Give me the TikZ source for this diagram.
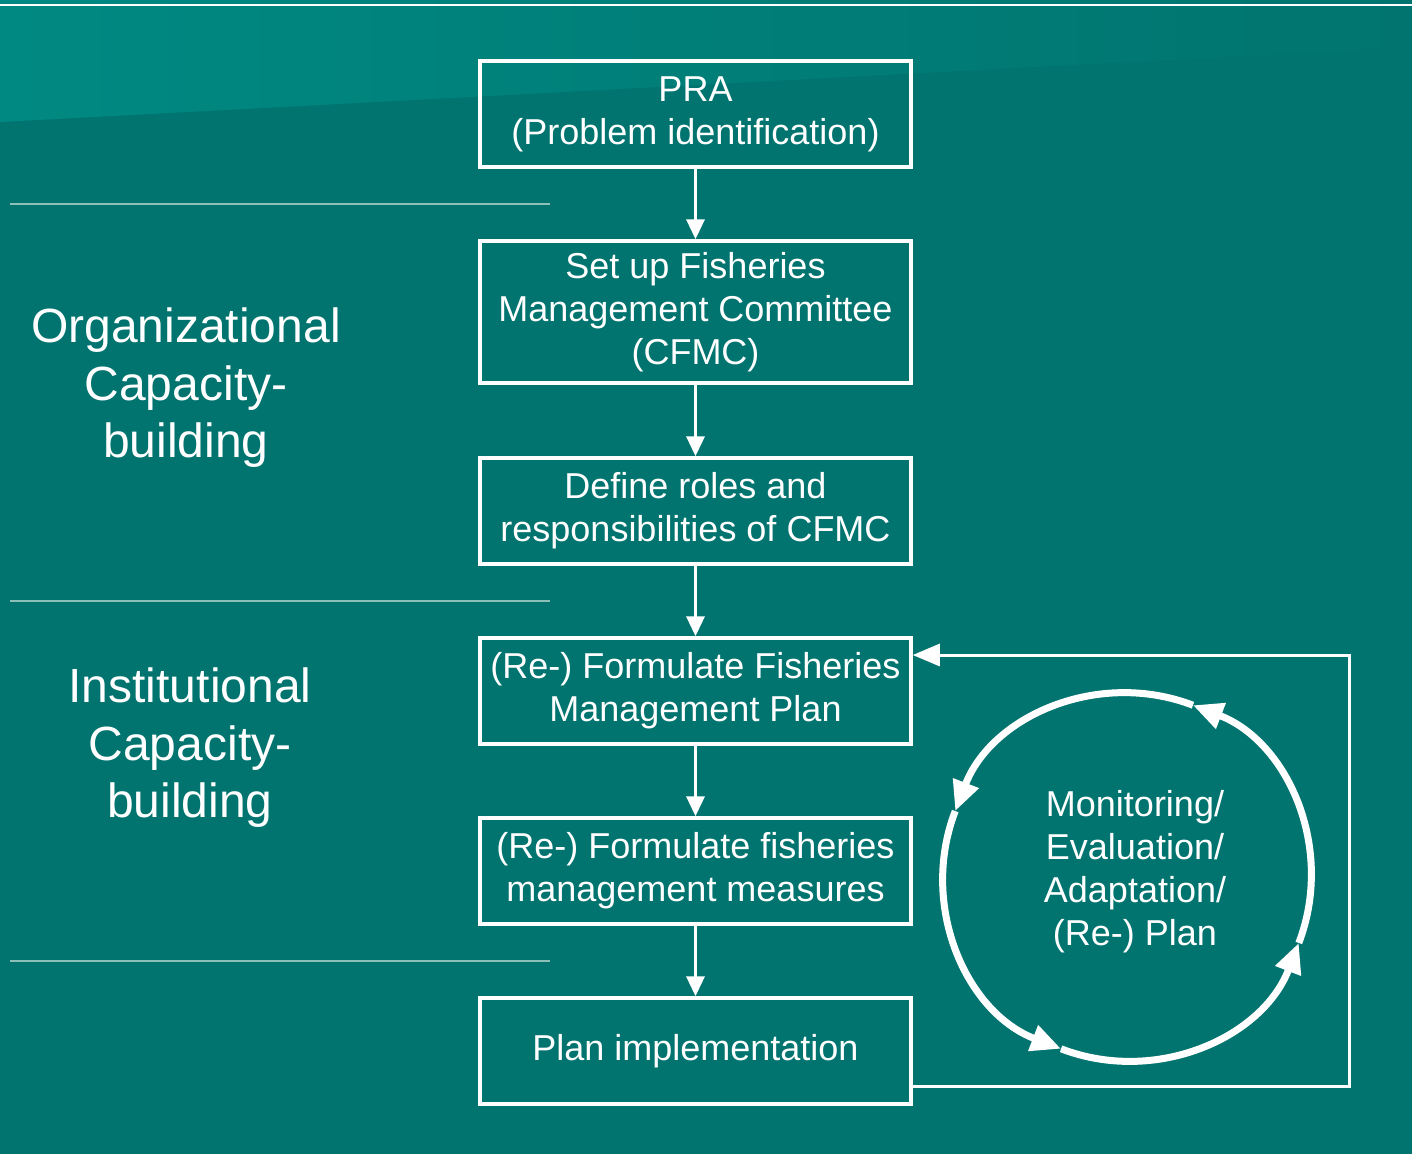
\documentclass[tikz,border=0pt]{standalone}
\usepackage{fontspec}
\setmainfont{Liberation Sans}
\usetikzlibrary{arrows.meta}
\definecolor{bg}{RGB}{1,116,111}
\definecolor{bglight}{RGB}{0,137,130}
\definecolor{sepcol}{RGB}{140,190,186}
\begin{document}
\begin{tikzpicture}[x=1pt,y=-1pt,
  box/.style={draw=white, line width=3.5pt, minimum width=431pt, inner sep=0pt, align=center, text=white, font=\fontsize{36}{43}\selectfont},
  conn/.style={draw=white, line width=3.5pt, -{Triangle[length=20pt,width=18pt]}},
  loopline/.style={draw=white, line width=3pt, -{Triangle[length=27pt,width=22pt]}},
  cyclearc/.style={draw=white, line width=7pt, -{Triangle[length=30pt,width=26pt]}},
  lab/.style={align=center, text=white, font=\fontsize{48}{57.5}\selectfont},
  ctext/.style={align=center, text=white, font=\fontsize{36}{43}\selectfont},
  sepline/.style={draw=sepcol, line width=1.8pt}
]
\useasboundingbox (0,0) rectangle (1412,1154);
\fill[bg] (0,0) rectangle (1412,1154);
\shade[left color=bglight, right color=bg] (0,0) -- (1412,0) -- (1412,47) -- (0,122) -- cycle;
\draw[white, line width=2pt] (0,5) -- (1412,5);

% separators
\draw[sepline] (10,204) -- (550,204);
\draw[sepline] (10,601) -- (550,601);
\draw[sepline] (10,961) -- (550,961);

% left labels
\node[lab] (org) at (186,388) {Organizational\\Capacity-\\building};
\node[lab] (inst) at (190,748) {Institutional\\Capacity-\\building};

% boxes
\node[box, minimum height=106pt] (b1) at (695.5,114) {PRA\\(Problem identification)};
\node[box, minimum height=142pt] (b2) at (695.5,312) {Set up Fisheries\\Management Committee\\(CFMC)};
\node[box, minimum height=106pt] (b3) at (695.5,511) {Define roles and\\responsibilities of CFMC};
\node[box, minimum height=106pt] (b4) at (695.5,691) {(Re-) Formulate Fisheries\\Management Plan};
\node[box, minimum height=106pt] (b5) at (695.5,871) {(Re-) Formulate fisheries\\management measures};
\node[box, minimum height=106pt] (b6) at (695.5,1051) {Plan implementation};

\draw[conn] (b1) -- (b2);
\draw[conn] (b2) -- (b3);
\draw[conn] (b3) -- (b4);
\draw[conn] (b4) -- (b5);
\draw[conn] (b5) -- (b6);

% feedback loop
\coordinate (lp1) at (1349,1086);
\coordinate (lp2) at (1349,655);
\draw[loopline] (b6.east |- lp1) -- (lp1) -- (lp2) -- (b4.east |- lp2);

% cycle
\node[ctext] (mon) at (1135,872) {Monitoring/\\Evaluation/\\Adaptation/\\(Re-) Plan};
\begin{scope}[shift={(1127,877)}, y=1pt]
  \draw[cyclearc] (-21:184) arc[start angle=-21, end angle=69, radius=184];
  \draw[cyclearc] (69:184) arc[start angle=69, end angle=159, radius=184];
  \draw[cyclearc] (159:184) arc[start angle=159, end angle=249, radius=184];
  \draw[cyclearc] (249:184) arc[start angle=249, end angle=339, radius=184];
\end{scope}
\end{tikzpicture}
\end{document}
